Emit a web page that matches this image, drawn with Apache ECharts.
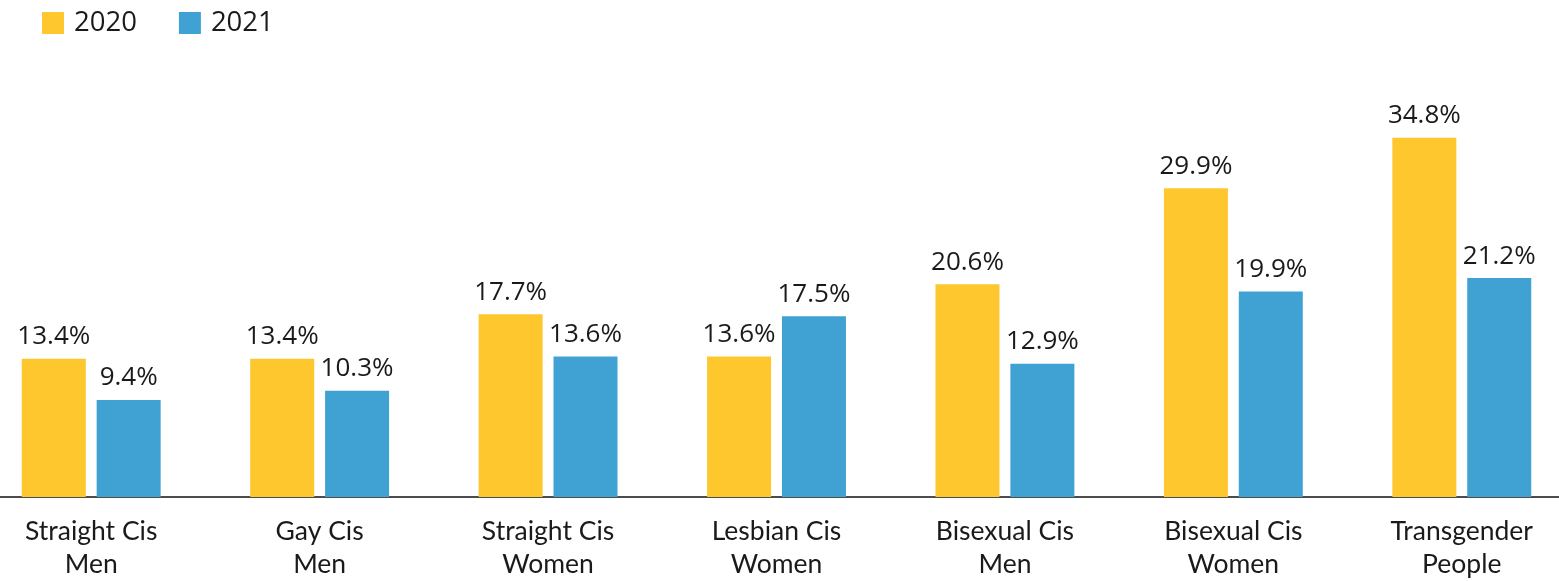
<!DOCTYPE html>
<html>
<head>
<meta charset="utf-8">
<script src="https://cdn.jsdelivr.net/npm/echarts@6/dist/echarts.min.js"></script>
<style>
html,body{margin:0;padding:0;background:#fff;}
#chart{width:1559px;height:581px;}
</style>
</head>
<body>
<div id="chart"></div>
<script>
var categories = ['Straight Cis\nMen', 'Gay Cis\nMen', 'Straight Cis\nWomen', 'Lesbian Cis\nWomen', 'Bisexual Cis\nMen', 'Bisexual Cis\nWomen', 'Transgender\nPeople'];
var seriesNames = ['2020', '2021'];
var values2020 = [13.4, 13.4, 17.7, 13.6, 20.6, 29.9, 34.8];
var values2021 = [9.4, 10.3, 13.6, 17.5, 12.9, 19.9, 21.2];

var chart = echarts.init(document.getElementById('chart'));
var labelCfg = {
  show: true,
  position: 'top',
  distance: 9,
  fontFamily: 'Open Sans',
  fontSize: 26,
  color: '#1a1a1a',
  formatter: function (p) { return p.value.toFixed(1) + '%'; }
};
chart.setOption({
  animation: false,
  backgroundColor: '#fff',
  legend: {
    left: 42,
    top: 9,
    padding: 0,
    itemWidth: 22,
    itemHeight: 22,
    itemGap: 42,
    icon: 'rect',
    textStyle: {
      fontFamily: 'Open Sans',
      fontSize: 27.5,
      color: '#1a1a1a',
      lineHeight: 22,
      padding: [0, 0, 0, 5]
    },
    data: seriesNames
  },
  grid: { left: -23, right: -17, top: 84, bottom: 84, containLabel: false, outerBoundsMode: 'none' },
  xAxis: {
    type: 'category',
    data: categories,
    axisLine: { show: true, lineStyle: { color: '#111', width: 1.5 } },
    axisTick: { show: false },
    axisLabel: {
      interval: 0,
      margin: 18,
      fontFamily: 'Lato',
      fontSize: 26.5,
      lineHeight: 33,
      color: '#1a1a1a'
    }
  },
  yAxis: {
    type: 'value',
    min: 0,
    max: 40,
    show: false,
    splitLine: { show: false }
  },
  series: [
    {
      name: seriesNames[0],
      type: 'bar',
      data: values2020,
      barWidth: 64,
      barGap: '17%',
      itemStyle: { color: '#FEC72E' },
      label: labelCfg
    },
    {
      name: seriesNames[1],
      type: 'bar',
      data: values2021,
      barWidth: 64,
      barGap: '17%',
      itemStyle: { color: '#3FA2D3' },
      label: labelCfg
    }
  ]
});
</script>
</body>
</html>
